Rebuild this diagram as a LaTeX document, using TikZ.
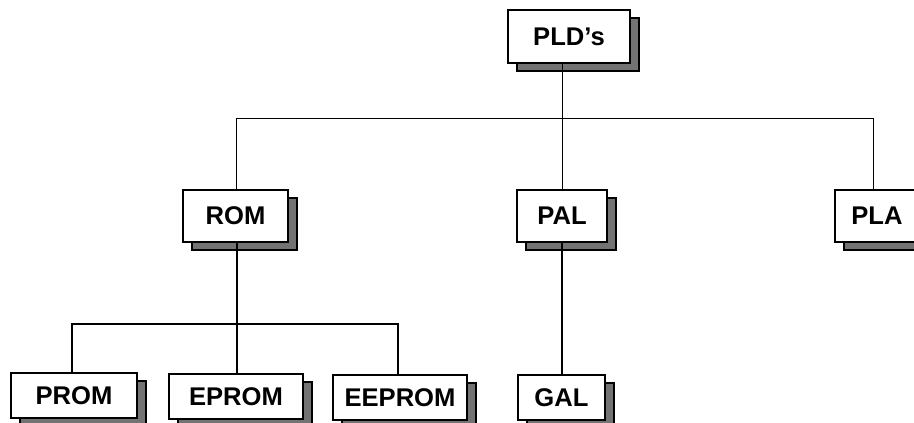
\documentclass[tikz,border=0pt]{standalone}
\usepackage{fontspec}
\setmainfont{Liberation Sans}
\usetikzlibrary{shadows}
\definecolor{shadowgray}{HTML}{737373}
\begin{document}
\begin{tikzpicture}[x=1pt,y=-1pt,
  box/.style={draw=black, fill=white, line width=1.8pt, inner sep=0pt,
    font=\fontsize{25.6}{30}\selectfont\bfseries,
    general shadow={shadow xshift=9pt, shadow yshift=-8pt,
      fill=shadowgray, draw=black, line width=1.5pt}},
  thin link/.style={line width=1pt},
  thick link/.style={line width=1.8pt}]
\useasboundingbox (0,0) rectangle (914,423);
\clip (0,0) rectangle (914,423);

% top level
\node[box, minimum width=122pt, minimum height=53pt] (pld) at (569,36.5) {PLD’s};

% second level
\node[box, minimum width=105pt, minimum height=52pt] (rom) at (235.5,216) {ROM};
\node[box, minimum width=90pt,  minimum height=52pt] (pal) at (562,216) {PAL};
\node[box, minimum width=84pt,  minimum height=52pt] (pla) at (877,216) {PLA};

% third level
\node[box, minimum width=126pt, minimum height=45pt] (prom)   at (74,395.5)  {PROM};
\node[box, minimum width=134pt, minimum height=45pt] (eprom)  at (236,396.5) {EPROM};
\node[box, minimum width=134pt, minimum height=45pt] (eeprom) at (400,397.5) {EEPROM};
\node[box, minimum width=87pt,  minimum height=45pt] (gal)    at (561.5,397.5) {GAL};

% bus coordinates
\coordinate (bus1) at (562,118);
\coordinate (bus2) at (237,324);

% PLD's to second level
\draw[thin link] (pal.north) -- (pal.north |- pld.south);
\draw[thin link] (rom.north -| 236,0) -- (236,118) -- (873,118) -- (pla.north -| 873,0);

% ROM to third level
\draw[thick link] (rom.south -| bus2) -- (eprom.north -| bus2);
\draw[thick link] (prom.north -| 72,0) -- (72,324) -- (398,324) -- (eeprom.north -| 398,0);

% PAL to GAL
\draw[thick link] (pal.south) -- (gal.north -| pal.south);
\end{tikzpicture}
\end{document}
